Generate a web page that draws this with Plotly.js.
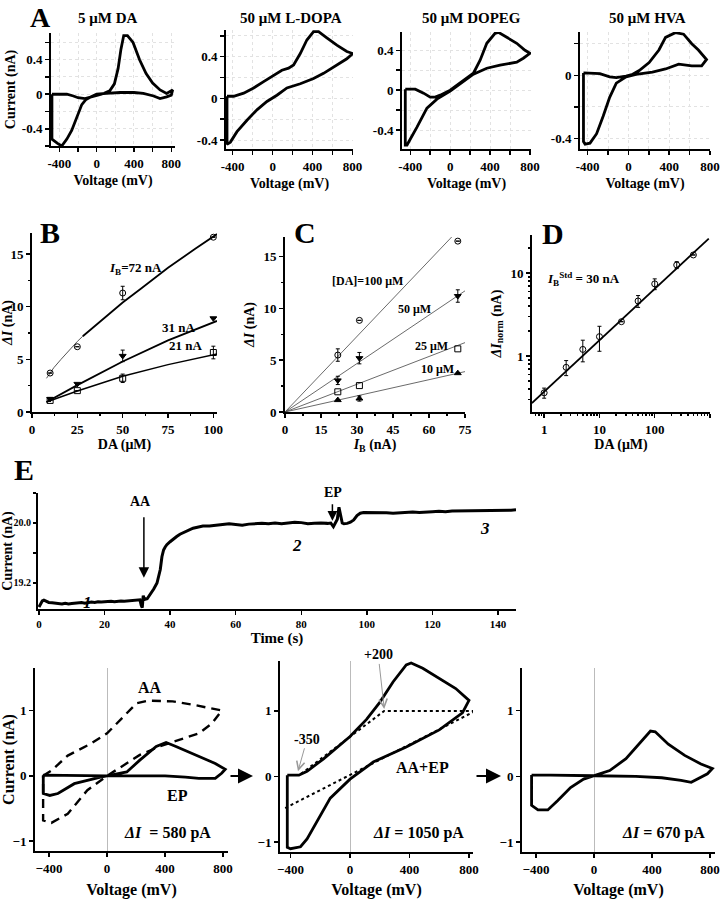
<!DOCTYPE html>
<html>
<head>
<meta charset="utf-8">
<script src="https://cdn.plot.ly/plotly-3.0.1.min.js"></script>
<style>body{margin:0;background:#fff}#fig{width:722px;height:899px}</style>
</head>
<body>
<div id="fig"></div>
<script>
// ---- panel A: cyclic voltammograms (mV, nA)
const daV = [-480,-400,-320,-250,-200,-125,-60,0,80,140,190,230,260,290,330,390,460,530,600,680,750,815,800,750,680,610,500,400,250,100,0,-60,-114,-160,-214,-268,-320,-375,-420,-480,-480]
const daI = [0,0,0,-0.02,-0.04,-0.05,-0.03,-0.01,0.01,0.04,0.12,0.3,0.52,0.68,0.68,0.6,0.4,0.24,0.13,0.05,0.01,0.05,-0.01,-0.03,-0.05,-0.02,0.01,0.02,0.02,0.01,0,-0.03,-0.06,-0.12,-0.26,-0.42,-0.52,-0.6,-0.57,-0.52,0]
const dopaV = [-457,-390,-290,-190,-90,10,93,160,210,277,343,410,460,543,643,743,803,743,643,510,410,277,143,43,-57,-157,-257,-357,-423,-457,-457]
const dopaI = [0.02,0.02,0.05,0.1,0.16,0.22,0.27,0.29,0.32,0.43,0.56,0.64,0.64,0.58,0.51,0.45,0.43,0.38,0.32,0.24,0.19,0.14,0.1,0.03,-0.03,-0.11,-0.21,-0.32,-0.42,-0.44,0.02]
const dopegV = [-450,-350,-267,-200,-150,-100,0,100,233,300,367,450,483,567,667,750,800,733,667,500,367,233,100,0,-133,-233,-333,-400,-433,-450,-450]
const dopegI = [0.01,0.01,-0.03,-0.07,-0.07,-0.05,0,0.07,0.17,0.3,0.47,0.57,0.58,0.53,0.47,0.4,0.37,0.32,0.28,0.25,0.22,0.16,0.06,-0.01,-0.09,-0.18,-0.37,-0.5,-0.55,-0.55,0.01]
const hvaV = [-441,-280,-184,-119,-23,42,106,203,299,364,460,541,621,686,766,718,621,493,364,235,74,-23,-119,-184,-248,-312,-377,-425,-441,-441]
const hvaI = [0.015,0.01,-0.01,-0.015,-0.006,0.006,0.03,0.08,0.16,0.24,0.27,0.26,0.2,0.16,0.1,0.06,0.06,0.07,0.04,0.02,0.006,-0.01,-0.05,-0.14,-0.26,-0.37,-0.43,-0.436,-0.42,0.015]

// ---- panel B: dI vs DA at three bias currents
const bDA = [10, 25, 50, 100]
const b72 = [3.7, 6.2, 11.3, 16.6]
const b72err = [0, 0, 0.64, 0]
const b31 = [1.24, 2.67, 5.33, 8.9]
const b31err = [0, 0, 0.55, 0]
const b21 = [1.1, 2.03, 3.2, 5.65]
const b21err = [0, 0, 0.4, 0.6]
const fit72thinX = [8, 12, 16, 20, 25, 28]
const fit72thinY = [3.2, 4.2, 5.0, 5.8, 6.7, 7.2]
const fit72X = [28, 35, 40, 50, 60, 75, 90, 102]
const fit72Y = [7.2, 8.2, 8.9, 10.4, 11.7, 13.7, 15.5, 16.9]
const fit31X = [8, 25, 50, 75, 102]
const fit31Y = [0.95, 2.55, 4.8, 6.8, 8.65]
const fit21X = [8, 25, 50, 75, 102]
const fit21Y = [0.95, 2.0, 3.4, 4.5, 5.5]

// ---- panel C: dI vs bias current
const cIB = [22, 31, 72]
const c100 = [5.5, 8.85, 16.5]
const c100err = [0.6, 0, 0]
const c50 = [3.05, 5.2, 11.2]
const c50err = [0.4, 0.55, 0.6]
const c25 = [1.95, 2.55, 6.1]
const c10 = [1.15, 1.3, 3.75]
const c10err = [0, 0.25, 0]
const cLineX = [0, 75]
const cLine100 = [0, 18.25]
const cLine50 = [0, 11.7]
const cLine25 = [0, 6.7]
const cLine10 = [0, 3.9]

// ---- panel D: normalised dI vs DA (log-log)
const dDA = [1, 2.5, 5, 10, 25, 50, 100, 250, 500]
const dNorm = [0.36, 0.73, 1.2, 1.71, 2.59, 4.6, 7.4, 12.5, 16.5]
const dErr = [0.05, 0.15, 0.35, 0.57, 0, 0.75, 1.1, 1.2, 0]
const dFitX = [0.6, 950]
const dFitY = [0.27, 26]

// ---- panel E: amperometric trace
const tE = [0,0.5,1,1.5,2,3,4,5,6,7,8,9,10,11,12,13,14,15,16,17,18,19,20,21,22,23,24,25,26,27,28,29,30,30.8,31.2,31.5,31.8,32.2,33,34,35,36,36.5,37,37.5,38,38.5,39,40,41,42,43,44,45,46,47,48,49,50,52,54,56,58,60,62,64,66,68,70,72,74,76,78,80,82,84,86,88,89,89.8,90.3,91,91.5,92,92.5,93,94,95,96,97,98,99,100,102,104,106,108,110,112,114,116,118,120,122,124,126,128,130,132,134,136,138,140,142,144,145.5]
const iE = [18.88,18.93,18.96,18.97,18.96,18.94,18.935,18.93,18.925,18.92,18.93,18.92,18.925,18.93,18.935,18.94,18.93,18.94,18.945,18.94,18.95,18.945,18.95,18.95,18.955,18.95,18.955,18.96,18.955,18.96,18.97,18.965,18.97,18.975,18.9,18.87,19.03,18.98,18.99,19.05,19.12,19.2,19.28,19.38,19.55,19.64,19.68,19.71,19.75,19.79,19.82,19.85,19.87,19.9,19.92,19.93,19.94,19.95,19.96,19.96,19.975,19.98,19.99,19.98,19.97,19.985,19.99,19.995,19.99,20.0,19.99,20.0,20.01,20.005,19.99,19.995,20.0,19.995,20.0,19.95,19.99,20.05,20.21,20.1,20.0,19.99,19.995,20.01,20.04,20.1,20.13,20.14,20.14,20.145,20.14,20.135,20.13,20.135,20.14,20.145,20.14,20.15,20.15,20.155,20.15,20.16,20.16,20.165,20.16,20.165,20.16,20.165,20.17,20.165,20.17,20.175]

// ---- bottom voltammograms
const aaV = [-441,-384,-271,-113,0,113,203,280,339,452,588,700,791,723,633,497,362,226,136,0,-136,-271,-384,-441,-441]
const aaI = [0,0.08,0.31,0.49,0.65,0.9,1.11,1.15,1.15,1.14,1.09,1.04,1.0,0.8,0.65,0.55,0.45,0.32,0.19,0,-0.22,-0.58,-0.72,-0.68,0]
const epV = [-440,-300,-200,0,136,226,339,407,475,633,746,815,790,746,633,540,400,200,0,-45,-136,-226,-339,-395,-440,-440]
const epI = [0.01,0.01,0.01,0,0.06,0.24,0.45,0.51,0.45,0.3,0.19,0.1,0.04,-0.04,-0.04,-0.02,0,0,0,-0.02,-0.07,-0.12,-0.27,-0.3,-0.27,0.01]
const mixV = [-422,-344,-289,-178,0,111,200,289,378,411,489,600,711,800,756,600,378,156,0,-133,-222,-289,-333,-400,-422,-422]
const mixI = [0.02,0.02,0.08,0.27,0.61,0.87,1.13,1.44,1.7,1.73,1.65,1.5,1.34,1.16,0.97,0.71,0.45,0.22,-0.04,-0.33,-0.69,-0.95,-1.07,-1.1,-1.08,0.02]
const baseLowV = [-436, 835]
const baseLowI = [-0.48, 0.99]
const baseUpV = [-330, 230, 835]
const baseUpI = [0.04, 1.0, 1.0]
const epOnlyV = [-431,-431,-387,-319,-252,-162,-72,0,108,220,310,389,422,512,625,737,816,782,670,600,467,288,0,-184,-300,-431]
const epOnlyI = [0.02,-0.44,-0.51,-0.51,-0.37,-0.17,-0.04,0.01,0.09,0.27,0.49,0.69,0.68,0.49,0.32,0.19,0.12,0.04,-0.09,-0.06,-0.02,0,0.01,0.02,0.02,0.02]

const W = 722, H = 899
const xd = (a, b) => [a / W, b / W]
const yd = (top, bot) => [1 - bot / H, 1 - top / H]
const serif = '"Liberation Serif", "Times New Roman", serif'
const tf = (size) => ({ family: serif, size, weight: 'bold', color: '#000' })

function axis(domain, range, extra) {
  return Object.assign({
    domain, range, showline: true, linecolor: '#000', linewidth: 2,
    ticks: 'outside', ticklen: 4, tickwidth: 1.5, tickcolor: '#000',
    showgrid: false, zeroline: false, fixedrange: true,
    tickfont: tf(13),
  }, extra)
}
const ttl = (text, standoff, size) => ({ text, standoff, font: { family: serif, size: size || 14, weight: 'bold' } })

const aGrid = { showgrid: true, gridcolor: '#e2e2e2', griddash: 'dot', gridwidth: 1 }
const aX = { tickvals: [-400, -200, 0, 200, 400, 600, 800], ticktext: ['-400', '', '0', '', '400', '', '800'] }
const aY = { tickvals: [-0.6, -0.4, -0.2, 0, 0.2, 0.4, 0.6], ticktext: ['', '-0.4', '', '0', '', '0.4', ''] }

const cv = (x, y, n) => ({ x, y, xaxis: 'x' + n, yaxis: 'y' + n, mode: 'lines', line: { color: '#000', width: 2.8 }, hoverinfo: 'skip' })
const pts = (x, y, err, sym, n) => ({
  x, y, xaxis: 'x' + n, yaxis: 'y' + n, mode: 'markers',
  marker: { symbol: sym, size: 6, color: '#000', line: { color: '#000', width: 1 } },
  error_y: err ? { type: 'data', array: err, visible: true, color: '#000', thickness: 1, width: 2 } : undefined,
})
const ln = (x, y, n, w, c) => ({ x, y, xaxis: 'x' + n, yaxis: 'y' + n, mode: 'lines', line: { color: c || '#000', width: w } })

const data = [
  cv(daV, daI, ''), cv(dopaV, dopaI, 2), cv(dopegV, dopegI, 3), cv(hvaV, hvaI, 4),
  ln(fit72thinX, fit72thinY, 5, 1, '#555'), ln(fit72X, fit72Y, 5, 1.8),
  ln(fit31X, fit31Y, 5, 1.8), ln(fit21X, fit21Y, 5, 1.5),
  pts(bDA, b72, b72err, 'circle-open', 5), pts(bDA, b31, b31err, 'triangle-down', 5), pts(bDA, b21, b21err, 'square-open', 5),
  ln(cLineX, cLine100, 6, 0.8, '#444'), ln(cLineX, cLine50, 6, 0.8, '#444'), ln(cLineX, cLine25, 6, 0.8, '#444'), ln(cLineX, cLine10, 6, 0.8, '#444'),
  pts(cIB, c100, c100err, 'circle-open', 6), pts(cIB, c50, c50err, 'triangle-down', 6), pts(cIB, c25, null, 'square-open', 6), pts(cIB, c10, c10err, 'triangle-up', 6),
  ln(dFitX, dFitY, 7, 1.8), pts(dDA, dNorm, dErr, 'circle-open', 7),
  { x: tE, y: iE, xaxis: 'x8', yaxis: 'y8', mode: 'lines', line: { color: '#000', width: 3 } },
  { x: aaV, y: aaI, xaxis: 'x9', yaxis: 'y9', mode: 'lines', line: { color: '#000', width: 2.4, dash: '9px,6px' } },
  cv(epV, epI, 9),
  { x: baseLowV, y: baseLowI, xaxis: 'x10', yaxis: 'y10', mode: 'lines', line: { color: '#000', width: 2, dash: 'dot' } },
  { x: baseUpV, y: baseUpI, xaxis: 'x10', yaxis: 'y10', mode: 'lines', line: { color: '#000', width: 2, dash: 'dot' } },
  cv(mixV, mixI, 10),
  cv(epOnlyV, epOnlyI, 11),
]

const bottomX = { tickvals: [-400, 0, 400, 800], zeroline: true, zerolinecolor: '#bbb', zerolinewidth: 1 }
const bottomY = { tickvals: [-1, 0, 1] }

const layout = {
  width: W, height: H, margin: { l: 0, r: 0, t: 0, b: 0 },
  paper_bgcolor: '#fff', plot_bgcolor: 'rgba(0,0,0,0)', showlegend: false,
  font: { family: serif, size: 13, color: '#000', weight: 'bold' },
  xaxis: axis(xd(51, 175), [-490, 840], Object.assign({ anchor: 'y', title: ttl('Voltage (mV)', 6) }, aX, aGrid)),
  yaxis: axis(yd(33, 146), [-0.6, 0.71], Object.assign({ anchor: 'x', title: ttl('Current (nA)', 3) }, aY, aGrid)),
  xaxis2: axis(xd(226, 353), [-467, 805], Object.assign({ anchor: 'y2', title: ttl('Voltage (mV)', 6) }, aX, aGrid)),
  yaxis2: axis(yd(30, 149), [-0.486, 0.656], Object.assign({ anchor: 'x2' }, aY, aGrid)),
  xaxis3: axis(xd(402, 531), [-483, 810], Object.assign({ anchor: 'y3', title: ttl('Voltage (mV)', 6) }, aX, aGrid)),
  yaxis3: axis(yd(32, 149), [-0.59, 0.583], Object.assign({ anchor: 'x3' }, aY, aGrid)),
  xaxis4: axis(xd(580, 710), [-475, 800], Object.assign({ anchor: 'y4', title: ttl('Voltage (mV)', 6) }, aX, aGrid)),
  yaxis4: axis(yd(32, 149), [-0.467, 0.274], Object.assign({ anchor: 'x4' }, aY, aGrid)),
  xaxis5: axis(xd(32, 217), [0, 102], { anchor: 'y5', tickvals: [0, 25, 50, 75, 100], title: ttl('DA (μM)', 4), minor: { dtick: 12.5, ticks: 'outside', ticklen: 2 } }),
  yaxis5: axis(yd(233, 412), [0, 17], { anchor: 'x5', tickvals: [0, 5, 10, 15], title: ttl('<i>ΔI</i> (nA)', 6), minor: { dtick: 2.5, ticks: 'outside', ticklen: 2 } }),
  xaxis6: axis(xd(285, 465), [0, 75], { anchor: 'y6', tickvals: [0, 15, 30, 45, 60, 75], title: ttl('<i>I</i><sub>B</sub> (nA)', 4), minor: { dtick: 7.5, ticks: 'outside', ticklen: 2 } }),
  yaxis6: axis(yd(237, 412), [0, 16.9], { anchor: 'x6', tickvals: [0, 5, 10, 15], title: ttl('<i>ΔI</i> (nA)', 6), minor: { dtick: 2.5, ticks: 'outside', ticklen: 2 } }),
  xaxis7: axis(xd(532, 710), [-0.22, 3.0], { anchor: 'y7', type: 'log', tickvals: [1, 10, 100, 1000], title: ttl('DA (μM)', 4),
    minor: { tickvals: [0.7, 0.8, 0.9, 2, 3, 4, 5, 6, 7, 8, 9, 20, 30, 40, 50, 60, 70, 80, 90, 200, 300, 400, 500, 600, 700, 800, 900], ticks: 'outside', ticklen: 2 } }),
  yaxis7: axis(yd(235, 412), [-0.675, 1.458], { anchor: 'x7', type: 'log', tickvals: [1, 10], title: ttl('<i>ΔI</i><sub>norm</sub> (nA)', 6),
    minor: { tickvals: [0.3, 0.4, 0.5, 0.6, 0.7, 0.8, 0.9, 2, 3, 4, 5, 6, 7, 8, 9, 20], ticks: 'outside', ticklen: 2 } }),
  xaxis8: axis(xd(38, 516), [-0.3, 145.5], { anchor: 'y8', tickvals: [0, 20, 40, 60, 80, 100, 120, 140], tickfont: tf(11), title: ttl('Time (s)', 0, 15) }),
  yaxis8: axis(yd(493, 609), [18.853, 20.4], { anchor: 'x8', tickvals: [19.2, 19.6, 20.0, 20.4], ticktext: ['19.2', '', '20.0', ''], tickfont: tf(10), ticklen: 3, title: ttl('Current (nA)', 2) }),
  xaxis9: axis(xd(35, 228), [-497, 834], Object.assign({ anchor: 'y9', title: ttl('Voltage (mV)', 10, 16) }, bottomX)),
  yaxis9: axis(yd(668, 851), [-1.15, 1.65], Object.assign({ anchor: 'x9', title: ttl('Current (nA)', 6, 16) }, bottomY)),
  xaxis10: axis(xd(280, 473), [-471, 827], Object.assign({ anchor: 'y10', title: ttl('Voltage (mV)', 10, 16) }, bottomX)),
  yaxis10: axis(yd(661, 852), [-1.15, 1.76], Object.assign({ anchor: 'x10' }, bottomY)),
  xaxis11: axis(xd(522, 715), [-497, 834], Object.assign({ anchor: 'y11', title: ttl('Voltage (mV)', 10, 16) }, bottomX)),
  yaxis11: axis(yd(668, 852), [-1.15, 1.65], Object.assign({ anchor: 'x11' }, bottomY)),
}

const lab = (text, x, y, size, extra) => Object.assign({
  text, x: x / W, y: 1 - y / H, xref: 'paper', yref: 'paper', showarrow: false,
  xanchor: 'center', yanchor: 'middle', font: { family: serif, size: size, weight: 'bold', color: '#000' },
}, extra)

layout.annotations = [
  lab('A', 40, 17, 28), lab('B', 50, 233, 30), lab('C', 305, 232, 30), lab('D', 553, 234, 30), lab('E', 24, 470, 30),
  lab('5 μM DA', 108, 18, 15), lab('50 μM L-DOPA', 291, 18, 15), lab('50 μM DOPEG', 471, 18, 15), lab('50 μM HVA', 647, 18, 15),
  lab('<i>I</i><sub>B</sub>=72 nA', 135, 268, 13), lab('31 nA', 178, 327, 13), lab('21 nA', 185, 345, 13),
  lab('[DA]=100 μM', 367, 281, 12), lab('50 μM', 415, 309, 12), lab('25 μM', 432, 346, 12), lab('10 μM', 437, 369, 12),
  lab('<i>I</i><sub>B</sub><sup>Std</sup> = 30 nA', 583, 279, 13),
  lab('AA', 140, 502, 14), lab('EP', 333, 492, 14),
  lab('<i>1</i>', 87, 602, 17), lab('<i>2</i>', 297, 545, 17), lab('<i>3</i>', 485, 528, 17),
  lab('AA', 150, 687, 16), lab('EP', 177, 795, 16), lab('<i>ΔI</i>  = 580 pA', 167, 833, 16),
  lab('AA+EP', 422, 767, 16), lab('<i>ΔI</i> = 1050 pA', 418, 833, 16), lab('<i>ΔI</i> = 670 pA', 663, 833, 16),
  // arrows
  { x: 32, y: 19.27, xref: 'x8', yref: 'y8', text: '', showarrow: true, ax: 0, ay: -62, arrowhead: 2, arrowsize: 1.4, arrowwidth: 1.5, arrowcolor: '#000' },
  { x: 89.5, y: 20.03, xref: 'x8', yref: 'y8', text: '', showarrow: true, ax: 0, ay: -18, arrowhead: 2, arrowsize: 1.3, arrowwidth: 1.5, arrowcolor: '#000' },
  { x: -350, y: 0.08, xref: 'x10', yref: 'y10', text: '-350', font: tf(14), showarrow: true, ax: 9, ay: -32, arrowhead: 5, arrowsize: 1.6, arrowwidth: 1, arrowcolor: '#999' },
  { x: 230, y: 1.03, xref: 'x10', yref: 'y10', text: '+200', font: tf(14), showarrow: true, ax: -6, ay: -54, arrowhead: 5, arrowsize: 1.6, arrowwidth: 1, arrowcolor: '#999' },
  { x: 253 / W, y: 1 - 776 / H, xref: 'paper', yref: 'paper', text: '', showarrow: true, ax: -24, ay: 0, arrowhead: 2, arrowsize: 1.5, arrowwidth: 2, arrowcolor: '#000' },
  { x: 501 / W, y: 1 - 776 / H, xref: 'paper', yref: 'paper', text: '', showarrow: true, ax: -26, ay: 0, arrowhead: 2, arrowsize: 1.5, arrowwidth: 2, arrowcolor: '#000' },
]

Plotly.newPlot('fig', data, layout, { staticPlot: true, displayModeBar: false })
</script>
</body>
</html>
